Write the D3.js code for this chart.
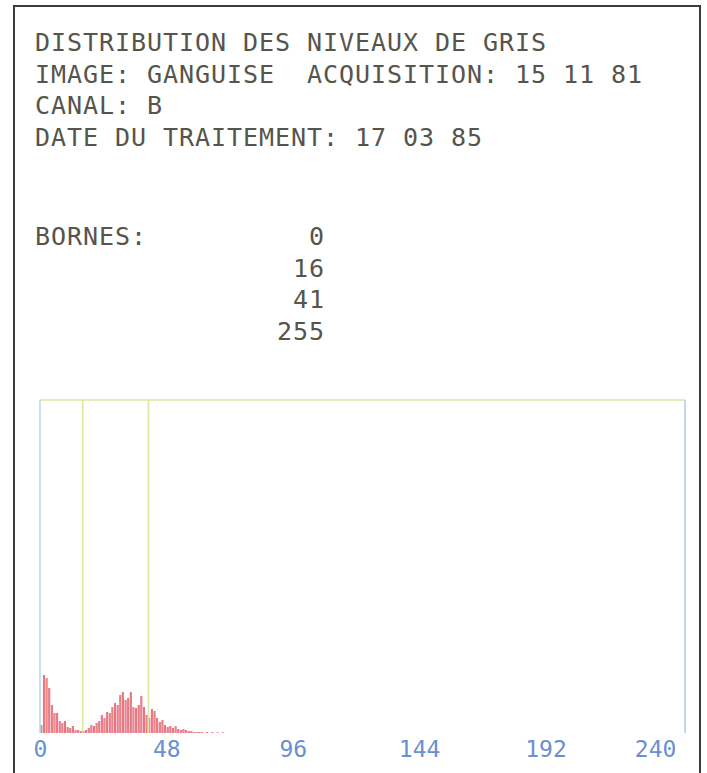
<!DOCTYPE html>
<html><head><meta charset="utf-8">
<script src="https://cdn.jsdelivr.net/npm/d3@7"></script>
<style>
html,body{margin:0;padding:0;background:#fff;}
svg{display:block;}
text{font-family:"DejaVu Sans Mono",monospace;white-space:pre;}
</style></head>
<body>
<script>
// ---- data ----
const headerLines = [
  "DISTRIBUTION DES NIVEAUX DE GRIS",
  "IMAGE: GANGUISE  ACQUISITION: 15 11 81",
  "CANAL: B",
  "DATE DU TRAITEMENT: 17 03 85"
];
const bornesLabel = "BORNES:";
const bornes = [0, 16, 41, 255];
const tickValues = [0, 48, 96, 144, 192, 240];
// histogram counts per grey level (levels 0..70, arbitrary units, max scale 1000)
const levels = d3.range(0, 71);
const counts = [24,174,165,135,84,60,60,36,30,36,18,15,21,9,9,6,6,9,15,24,21,30,36,54,45,63,60,78,90,84,114,123,99,105,123,78,75,84,111,78,54,45,72,66,45,33,39,24,18,21,15,21,12,9,12,9,6,6,3,3,3,3,0,3,0,3,0,2,0,2,0];

const W = 707, H = 773;
const svg = d3.select("body").append("svg").attr("width", W).attr("height", H);

// outer border
svg.append("path").attr("d", `M14,${H+5} L14,6 L700,6 L700,${H+5}`)
  .attr("fill","none").attr("stroke","#3c3c3c").attr("stroke-width",2);

// header text
const txt = svg.append("g").attr("fill","#55554c").style("font-size","25px").style("letter-spacing","0.95px");
txt.selectAll("text.h").data(headerLines).join("text").attr("class","h")
  .attr("xml:space","preserve")
  .attr("x",35).attr("y",(d,i)=>51+i*31.7).text(d=>d);
txt.append("text").attr("x",35).attr("y",245).text(bornesLabel);
txt.selectAll("text.b").data(bornes).join("text").attr("class","b")
  .attr("x",325).attr("y",(d,i)=>245+i*31.5).attr("text-anchor","end").text(d=>d);

// histogram
const x = d3.scaleLinear().domain([0,245]).range([40,685]);
const y = d3.scaleLinear().domain([0,1000]).range([733,400]);

const g = svg.append("g");
// bars
g.selectAll("rect.bar").data(levels).join("rect").attr("class","bar")
  .attr("x", d=>x(d)+0.3)
  .attr("width", x(1)-x(0)-0.6)
  .attr("y", d=>y(counts[d]))
  .attr("height", d=>y(0)-y(counts[d]))
  .attr("fill","#e4607f");
// light dotting over bars
g.selectAll("rect.dot").data(levels).join("rect").attr("class","dot")
  .attr("x", d=>x(d)+0.9)
  .attr("width", 0.8)
  .attr("y", d=>y(counts[d]))
  .attr("height", d=>y(0)-y(counts[d]))
  .attr("fill","#f6d08a").attr("opacity",0.45);

// frame
g.append("line").attr("x1",x(0)).attr("x2",x(245)).attr("y1",y(1000)).attr("y2",y(1000))
  .attr("stroke","#d6e8a2").attr("stroke-width",1.6);
g.append("line").attr("x1",x(0)).attr("x2",x(0)).attr("y1",y(1000)).attr("y2",y(0))
  .attr("stroke","#b7dde8").attr("stroke-width",1.6);
g.append("line").attr("x1",x(245)).attr("x2",x(245)).attr("y1",y(1000)).attr("y2",y(0))
  .attr("stroke","#aed2ea").attr("stroke-width",1.6);
// borne lines
g.selectAll("line.borne").data(bornes.filter(b=>b>0 && b<245)).join("line").attr("class","borne")
  .attr("x1",d=>x(d)+0.5).attr("x2",d=>x(d)+0.5).attr("y1",y(1000)).attr("y2",y(0))
  .attr("stroke","#d8e8a0").attr("stroke-width",1.6);

// x tick labels
const xAxis = d3.axisBottom(x).tickValues(tickValues).tickSize(0).tickPadding(0);
const ax = svg.append("g").attr("transform",`translate(0,${y(0)})`).call(xAxis);
ax.select(".domain").remove();
ax.selectAll("text").attr("dy",null).attr("y",24)
  .style("font-size","23px").attr("fill","#6a8fd2")
  .style("font-family","'DejaVu Sans Mono',monospace");
ax.selectAll(".tick").filter(d=>d===240).select("text").attr("text-anchor","end").attr("x",4);
</script>
</body></html>
